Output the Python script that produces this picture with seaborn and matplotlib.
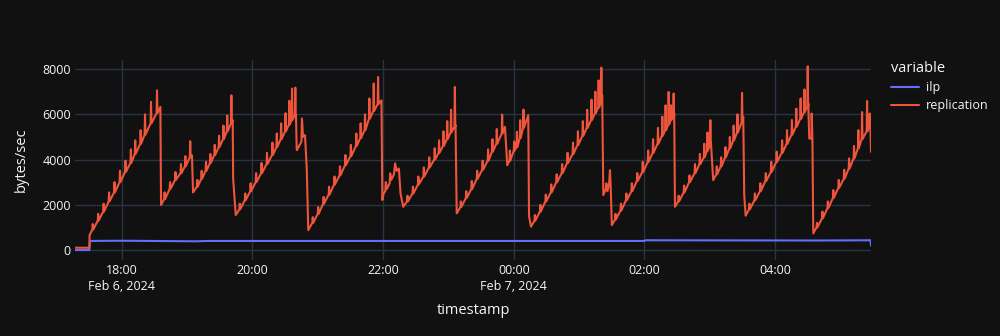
import numpy as np
import pandas as pd
import matplotlib
matplotlib.use("Agg")
import matplotlib.pyplot as plt
from matplotlib.lines import Line2D
import seaborn as sns

# ---------------- data (minutes after 2024-02-06 17:00) ----------------
# pairs = (minute, value); triples = (minute, ramp value, spike top)
rep_cycle1 = [(17.1, 100), (30.3, 100), (30.5, 660),
              (33, 900, 1150), (38, 1300, 1600), (43, 1700, 2050), (48, 2150, 2550),
              (53, 2550, 3000), (58, 3000, 3500), (63, 3450, 3950), (68, 3850, 4450),
              (72, 4250, 4850), (77, 4700, 5300), (81, 5100, 6000), (86.5, 5600, 6550),
              (92, 6050, 7060), (95.5, 6330), (96.1, 1990)]
rep_cycle2 = [(99, 2250, 2550), (104, 2700, 3000), (109, 3100, 3450), (114, 3400, 3800),
              (118, 3700, 4150), (122.5, 4100, 4810), (124.5, 4190), (125.5, 2545),
              (129, 2800, 3100), (133, 3150, 3500), (137, 3500, 3900), (141, 3850, 4250),
              (145, 4200, 4650), (149, 4550, 5050), (153, 4900, 5500), (156.5, 5250, 5950),
              (160.3, 5600, 6840), (161.9, 5740), (162.3, 3165), (164.7, 1545)]
rep_cycle3 = [(168, 1800, 2050), (173, 2200, 2500), (178, 2600, 2950), (183, 3000, 3400),
              (188, 3400, 3850), (193, 3800, 4300), (198, 4200, 4750), (202, 4550, 5150),
              (206, 4900, 5600), (210, 5250, 6050), (213.5, 5550, 6600), (216, 5750, 7140),
              (219, 5960, 7180), (220, 5960), (220.7, 4415), (224, 4700), (225, 4800),
              (225.5, 5815), (226.5, 5000), (228.3, 5080), (229.9, 3605), (231.3, 880)]
rep_cycle4 = [(235, 1200, 1450), (240, 1600, 1900), (245, 2050, 2350), (250, 2450, 2800),
              (255, 2900, 3250), (260, 3300, 3700), (265, 3750, 4200), (270, 4150, 4650),
              (275, 4600, 5150), (279, 4950, 5600), (283, 5300, 6000), (287, 5800, 6700),
              (291, 6150, 7360), (295, 6450, 7650), (298.5, 6620), (299.3, 2210),
              (300.5, 2500), (302, 2600), (302.5, 3000), (303.5, 2700), (306, 2950),
              (306.5, 3390), (307.5, 3100), (310, 3350), (311, 3830), (312.5, 3500),
              (314.5, 3600), (316, 2500), (318.5, 1910)]
rep_cycle5 = [(322, 2150, 2400), (327, 2500, 2800), (332, 2900, 3250), (337, 3250, 3650),
              (342, 3650, 4100), (347, 4000, 4500), (351, 4300, 4850), (355, 4600, 5250),
              (358.5, 4900, 5700), (362, 5200, 6200), (365.5, 5450, 7210), (366.5, 5520),
              (367.6, 1620)]
rep_cycle6 = [(371, 1900, 2150), (376, 2300, 2600), (381, 2700, 3050), (386, 3150, 3500),
              (391, 3550, 3950), (396, 3950, 4450), (400, 4350, 4900), (404, 4700, 5350),
              (408.9, 5150, 5990), (411.9, 5445), (414, 3750),
              (416, 3950, 4400), (420, 4400, 4800), (422.5, 4550, 5225), (425.5, 4950, 5740),
              (428.5, 5400, 6210), (433.3, 5960), (434, 1500), (435.8, 1030)]
rep_cycle7 = [(439, 1300, 1550), (444, 1700, 2000), (449, 2150, 2450), (454, 2550, 2900),
              (459, 3000, 3350), (464, 3400, 3800), (469, 3850, 4300), (474, 4250, 4750),
              (478.5, 4650, 5250), (483, 5050, 5700), (487, 5400, 6200), (491, 5750, 6650),
              (494.5, 6050, 7000), (497.5, 6300, 7500), (500, 6550, 8065), (501.2, 6840),
              (502.2, 2430), (504.5, 2700), (505, 2950), (506, 2600), (507.5, 2900),
              (508.3, 3530), (509, 2800), (510, 1100)]
rep_cycle8 = [(513, 1350, 1600), (518, 1750, 2050), (523, 2200, 2500), (528, 2600, 2950),
              (533, 3050, 3400), (538, 3450, 3900), (543, 3900, 4400), (547.5, 4300, 4900),
              (552, 4700, 5400), (556, 5050, 5900), (559, 5300, 6400), (561.8, 5550, 6990),
              (564, 5750, 6400), (566.4, 5950, 6920), (567.3, 6035), (568, 1910)]
rep_cycle9 = [(571, 2150, 2400), (576, 2550, 2850), (581, 3000, 3300), (586, 3400, 3800),
              (590.5, 3800, 4250), (594.5, 4100, 4700), (597.5, 4400, 5200), (600.1, 4650, 5740),
              (601, 4780), (603.1, 3090),
              (606, 3350, 3700), (610, 3700, 4100), (614, 4100, 4550), (618, 4500, 5000),
              (621.5, 4850, 5500), (625, 5200, 6000), (629.2, 5650, 6945), (630.7, 5885),
              (631.6, 2430), (632.9, 1515)]
rep_cycle10 = [(636, 1800, 2050), (641, 2200, 2500), (646, 2600, 2950), (651, 3050, 3400),
               (656, 3450, 3900), (661, 3900, 4350), (666, 4300, 4850), (670.5, 4700, 5300),
               (675, 5100, 5750), (679, 5450, 6250), (683, 5800, 6700), (686.5, 6100, 7100),
               (689.5, 6350, 8120), (690.4, 6475), (691.3, 4930), (693.3, 4930), (693.5, 6035),
               (694.2, 4930), (695, 735)]
rep_cycle11 = [(698, 1000, 1200), (703, 1400, 1700), (708, 1850, 2150), (713, 2300, 2650),
               (718, 2750, 3100), (723, 3150, 3550), (727.5, 3600, 4050), (732, 4050, 4600),
               (736, 4500, 5300), (739.4, 4900, 6100), (744, 5250, 6590), (746.4, 5450, 6035),
               (747.5, 5520), (748, 4340)]

ilp_points = [(17.1, 0), (30.3, 0), (30.8, 400), (60, 410), (128, 385), (140, 400),
              (300, 400), (540, 400), (541, 430), (700, 420), (747.5, 430), (748, 190)]

tick_times = ["2024-02-06 18:00", "2024-02-06 20:00", "2024-02-06 22:00",
              "2024-02-07 00:00", "2024-02-07 02:00", "2024-02-07 04:00"]
tick_labels = ["18:00\nFeb 6, 2024", "20:00", "22:00", "00:00\nFeb 7, 2024", "02:00", "04:00"]
y_ticks = [0, 2000, 4000, 6000, 8000]

T0 = pd.Timestamp("2024-02-06 17:00")


def expand(points):
    out = []
    for p in points:
        if len(p) == 2:
            out.append(p)
        else:
            m, base, top = p
            out += [(m, base), (m + 0.4, top), (m + 0.8, base)]
    return out


rep_all = []
for cyc in [rep_cycle1, rep_cycle2, rep_cycle3, rep_cycle4, rep_cycle5, rep_cycle6,
            rep_cycle7, rep_cycle8, rep_cycle9, rep_cycle10, rep_cycle11]:
    rep_all += expand(cyc)

rows = []
for m, v in ilp_points:
    rows.append(("ilp", T0 + pd.Timedelta(minutes=m), v))
for m, v in rep_all:
    rows.append(("replication", T0 + pd.Timedelta(minutes=m), v))
df = pd.DataFrame(rows, columns=["variable", "timestamp", "value"])

# ---------------- style ----------------
BG = "#111111"
GRID = "#283442"
TXT = "#f2f5fa"
palette = {"ilp": "#636EFA", "replication": "#EF553B"}

sns.set_theme(style="dark")
plt.rcParams["font.family"] = ["Open Sans", "DejaVu Sans"]

fig = plt.figure(figsize=(10, 3.36), dpi=100, facecolor=BG)
ax = fig.add_axes([0.075, 0.2262, 0.796, 0.595])
ax.set_facecolor(BG)

sns.lineplot(data=df, x="timestamp", y="value", hue="variable", palette=palette,
             estimator=None, sort=False, linewidth=1.5, ax=ax, legend=False)

ax.set_xlim(T0 + pd.Timedelta(minutes=17.1), T0 + pd.Timedelta(minutes=748))
ax.set_ylim(-442, 8398)

ax.set_xticks(pd.to_datetime(tick_times))
ax.set_xticklabels(tick_labels)
ax.set_yticks(y_ticks)
ax.set_yticklabels([str(v) for v in y_ticks])

ax.grid(True, color=GRID, linewidth=1)
ax.set_axisbelow(True)
for s in ax.spines.values():
    s.set_visible(False)
ax.tick_params(axis="both", length=0, colors=TXT, labelsize=9)
ax.tick_params(axis="x", pad=3)
ax.tick_params(axis="y", pad=3)
for lab in ax.get_xticklabels():
    lab.set_linespacing(1.3)

ax.set_xlabel("timestamp", color=TXT, fontsize=10.5)
ax.set_ylabel("bytes/sec", color=TXT, fontsize=10.5)
ax.xaxis.set_label_coords(0.5, -0.215)
ax.yaxis.set_label_coords(-0.058, 0.5)

handles = [Line2D([0], [0], color=palette[k], lw=1.5) for k in ["ilp", "replication"]]
leg = ax.legend(handles, ["ilp", "replication"], title="variable", loc="upper left",
                bbox_to_anchor=(0.891, 1 - 61 / 336), bbox_transform=fig.transFigure,
                frameon=False, fontsize=9, title_fontsize=10.5, handlelength=2.2,
                handletextpad=0.6, labelspacing=0.4, borderaxespad=0, borderpad=0,
                alignment="left")
for t in leg.get_texts():
    t.set_color(TXT)
leg.get_title().set_color(TXT)

fig.savefig("out.png", dpi=100, facecolor=BG)
